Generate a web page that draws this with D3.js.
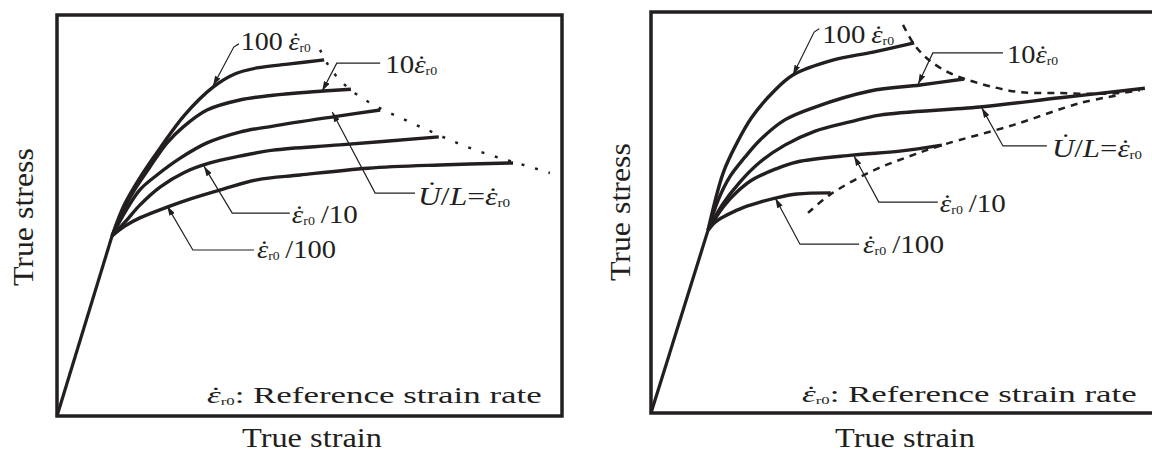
<!DOCTYPE html>
<head>
    <meta charset="utf-8">
    <title>True stress - true strain at different strain rates</title>
    <style>
        body { margin: 0; background: #fff; }
        text { font-family: "Liberation Serif", "Times New Roman", serif; fill: #231f20; }
    </style>
</head>
<body>
<script src="https://d3js.org/d3.v7.min.js"></script>
<script>

    var ink = '#231f20';

    // [strain, stress] in arbitrary units, both axes 0..10
    var leftYield = [1.09, 4.49];
    var rightYield = [1.13, 4.56];

    var rateNames = ['100', '10', '1', '1/10', '1/100'];

    var leftCurves = [
        [[1.09, 4.49], [1.33, 5.26], [1.64, 5.94], [2.04, 6.68], [2.53, 7.51], [3.09, 8.20], [3.52, 8.53], [3.96, 8.68], [4.61, 8.78], [5.29, 8.88]],
        [[1.09, 4.49], [1.45, 5.46], [1.84, 6.21], [2.18, 6.81], [2.50, 7.21], [2.97, 7.63], [3.62, 7.88], [4.28, 8.00], [5.01, 8.08], [5.82, 8.15]],
        [[1.09, 4.49], [1.35, 5.09], [1.64, 5.64], [1.98, 6.01], [2.44, 6.43], [2.97, 6.81], [3.62, 7.08], [4.28, 7.23], [5.47, 7.46], [6.40, 7.63]],
        [[1.09, 4.49], [1.35, 4.84], [1.64, 5.26], [2.04, 5.71], [2.53, 6.08], [3.03, 6.31], [3.62, 6.48], [4.28, 6.63], [5.60, 6.76], [7.56, 6.96]],
        [[1.09, 4.49], [1.35, 4.74], [1.64, 4.94], [2.18, 5.21], [2.63, 5.41], [3.29, 5.66], [3.96, 5.89], [4.81, 6.01], [6.16, 6.18], [7.58, 6.26], [9.03, 6.31]]
    ];

    var leftFailure = [[5.21, 9.13], [5.37, 8.75], [5.60, 8.38], [5.90, 8.05], [6.24, 7.78], [6.59, 7.56],
        [7.25, 7.18], [7.92, 6.81], [8.57, 6.51], [9.11, 6.31], [9.76, 6.06]];

    var rightCurves = [
        [[1.13, 4.56], [1.43, 5.99], [1.70, 6.73], [2.00, 7.38], [2.40, 7.98], [2.81, 8.43], [3.60, 8.80], [4.40, 9.00], [5.21, 9.23]],
        [[1.13, 4.56], [1.33, 5.31], [1.56, 5.89], [1.86, 6.38], [2.16, 6.81], [2.65, 7.31], [3.25, 7.63], [4.34, 8.03], [5.33, 8.18], [6.20, 8.33]],
        [[1.13, 4.56], [1.41, 5.19], [1.76, 5.76], [2.16, 6.26], [2.65, 6.68], [3.25, 7.03], [3.94, 7.26], [4.53, 7.43], [6.51, 7.63], [8.10, 7.86], [9.78, 8.10]],
        [[1.13, 4.56], [1.43, 5.14], [1.70, 5.51], [2.00, 5.81], [2.46, 6.08], [2.89, 6.26], [3.98, 6.43], [4.93, 6.53], [5.76, 6.68]],
        [[1.13, 4.56], [1.27, 4.76], [1.43, 4.89], [1.62, 5.01], [1.86, 5.14], [2.16, 5.26], [2.46, 5.36], [2.89, 5.46], [3.56, 5.49]]
    ];

    var rightUpperLimit = [[4.99, 9.68], [5.19, 9.23], [5.39, 8.93], [5.58, 8.73], [5.88, 8.50], [6.22, 8.33],
        [6.71, 8.15], [7.31, 8.00], [8.04, 7.98], [8.75, 7.96], [9.29, 7.98], [9.68, 8.05]];
    var rightLowerLimit = [[3.11, 4.99], [3.54, 5.44], [4.34, 6.01], [5.07, 6.38], [5.76, 6.68],
        [7.17, 7.18], [8.50, 7.73], [9.29, 7.93]];

    // label callouts: text start, leader end, elbow, arrow tip (same units)
    var leftNotes = [
        { tokens: ['100\u2009', 'eps'], text: [3.64, 9.13], len: 70, path: [[3.60, 9.28], [3.50, 9.20], [3.09, 8.23]] },
        { tokens: ['10', 'eps'], text: [6.50, 8.55], len: 52, path: [[6.40, 8.80], [5.54, 8.80], [5.25, 8.10]] },
        { tokens: ['U', '/', 'L', '=', 'eps'], text: [7.15, 5.26], len: 92, path: [[7.09, 5.56], [6.30, 5.56], [5.45, 7.58]] },
        { tokens: ['eps', '\u2009/10'], text: [4.65, 4.81], len: 66, path: [[4.61, 5.06], [3.47, 5.06], [2.91, 6.23]] },
        { tokens: ['eps', '\u2009/100'], text: [3.96, 3.94], len: 79, path: [[3.90, 4.14], [2.69, 4.14], [2.18, 5.24]] }
    ];
    var rightNotes = [
        { tokens: ['100\u2009', 'eps'], text: [3.39, 9.23], len: 72, path: [[3.33, 9.58], [3.23, 9.50], [2.81, 8.43]] },
        { tokens: ['10', 'eps'], text: [7.05, 8.73], len: 51, path: [[6.97, 8.98], [5.58, 8.98], [5.29, 8.20]] },
        { tokens: ['U', '/', 'L', '=', 'eps'], text: [7.94, 6.38], len: 90, path: [[7.84, 6.66], [6.97, 6.66], [6.55, 7.61]] },
        { tokens: ['eps', '\u2009/10'], text: [5.72, 5.01], len: 66, path: [[5.68, 5.26], [4.51, 5.26], [4.02, 6.41]] },
        { tokens: ['eps', '\u2009/100'], text: [4.20, 3.99], len: 81, path: [[4.12, 4.21], [2.95, 4.21], [2.46, 5.36]] }
    ];

    var frameW = 505, frameH = 401;

    var x = d3.scaleLinear().domain([0, 10]).range([0, frameW]);
    var y = d3.scaleLinear().domain([0, 10]).range([frameH, 0]);

    var smooth = d3.line()
        .x(function (d) { return x(d[0]); })
        .y(function (d) { return y(d[1]); })
        .curve(d3.curveCatmullRom.alpha(0.5));

    var straight = d3.line()
        .x(function (d) { return x(d[0]); })
        .y(function (d) { return y(d[1]); });

    var svg = d3.select('body').append('svg')
        .attr('width', 1152)
        .attr('height', 454);

    svg.append('defs').append('marker')
        .attr('id', 'head')
        .attr('markerUnits', 'userSpaceOnUse')
        .attr('markerWidth', 10).attr('markerHeight', 6)
        .attr('refX', 10).attr('refY', 3)
        .attr('orient', 'auto')
        .append('path')
        .attr('d', 'M0,0 L10,3 L0,6 Z')
        .attr('fill', ink);

    function measure(str, fs, italic) {
        var t = svg.append('text').attr('font-size', fs).text(str);
        if (italic) t.attr('font-style', 'italic');
        var w = t.node().getComputedTextLength();
        t.remove();
        return w;
    }

    // builds a label from tokens; 'eps' is the dotted epsilon with subscript r0
    function richText(g, tokens, pos, len, fs) {
        var holder = g.append('g');
        var t = holder.append('text').attr('font-size', fs);
        var base = 0, pendDx = 0;

        function add(str, opts) {
            opts = opts || {};
            var s = t.append('tspan').text(str);
            var off = opts.off || 0;
            if (off !== base) { s.attr('dy', off - base); base = off; }
            var dx = pendDx + (opts.dx || 0);
            if (dx) s.attr('dx', dx);
            pendDx = 0;
            if (opts.italic) s.attr('font-style', 'italic');
            if (opts.size) s.attr('font-size', opts.size);
            return s;
        }

        function withDot(ch, lift, lean) {
            var w = measure(ch, fs, true), d = measure('\u02d9', fs, false);
            add(ch, { italic: true });
            add('\u02d9', { off: -lift, dx: -(w + d) / 2 + lean });
            pendDx = (w - d) / 2 - lean;
        }

        tokens.forEach(function (tok) {
            if (tok === 'eps') {
                withDot('\u03b5', 0, fs * 0.06);
                add('r0', { size: fs * 0.48, off: 2 });
            } else if (tok === 'U') {
                withDot('U', fs * 0.24, fs * 0.08);
            } else if (tok === 'L') {
                add('L', { italic: true });
            } else {
                add(tok);
            }
        });

        var w = t.node().getBBox().width;
        holder.attr('transform', 'translate(' + x(pos[0]) + ',' + y(pos[1]) + ') scale(' + (len / w) + ',1)');
        return holder;
    }

    function panel(ox, oy, yieldPt, curves, limits, dash, notes, refPos, strainPos, stressPos) {
        var g = svg.append('g').attr('transform', 'translate(' + ox + ',' + oy + ')');

        // elastic part
        g.append('path')
            .attr('d', straight([[0, 0], yieldPt]))
            .attr('fill', 'none').attr('stroke', ink).attr('stroke-width', 3.2);

        g.selectAll('.curve')
            .data(curves)
            .enter().append('path')
            .attr('class', function (d, i) { return 'curve rate-' + i; })
            .attr('d', smooth)
            .attr('fill', 'none')
            .attr('stroke', ink)
            .attr('stroke-width', 3.4)
            .attr('stroke-linecap', 'butt');

        g.selectAll('.limit')
            .data(limits)
            .enter().append('path')
            .attr('class', 'limit')
            .attr('d', smooth)
            .attr('fill', 'none')
            .attr('stroke', ink)
            .attr('stroke-width', 2.5)
            .attr('stroke-dasharray', dash);

        notes.forEach(function (n) {
            g.append('path')
                .attr('d', straight(n.path))
                .attr('fill', 'none')
                .attr('stroke', ink)
                .attr('stroke-width', 1.2)
                .attr('marker-end', 'url(#head)');
            richText(g, n.tokens, n.text, n.len, 26);
        });

        richText(g, ['eps', ': Reference strain rate'], refPos, 335, 23);

        g.append('text')
            .attr('x', x(strainPos[0]))
            .attr('y', y(strainPos[1]))
            .attr('text-anchor', 'middle')
            .attr('font-size', 27)
            .attr('textLength', 140)
            .attr('lengthAdjust', 'spacingAndGlyphs')
            .text('True strain');

        g.append('text')
            .attr('transform', 'translate(' + x(stressPos[0]) + ',' + y(stressPos[1]) + ') rotate(-90)')
            .attr('text-anchor', 'middle')
            .attr('font-size', 30)
            .attr('textLength', 138)
            .attr('lengthAdjust', 'spacingAndGlyphs')
            .text('True stress');

        g.append('rect')
            .attr('x', 0).attr('y', 0)
            .attr('width', frameW).attr('height', frameH)
            .attr('fill', 'none')
            .attr('stroke', ink)
            .attr('stroke-width', 3.5);
    }

    panel(57, 15, leftYield, leftCurves, [leftFailure], '3,11', leftNotes,
        [2.97, 0.32], [5.05, -0.78], [-0.48, 4.96]);

    panel(651, 12, rightYield, rightCurves, [rightUpperLimit, rightLowerLimit], '7,6', rightNotes,
        [2.99, 0.27], [5.03, -0.85], [-0.42, 5.01]);

</script>
</body>
